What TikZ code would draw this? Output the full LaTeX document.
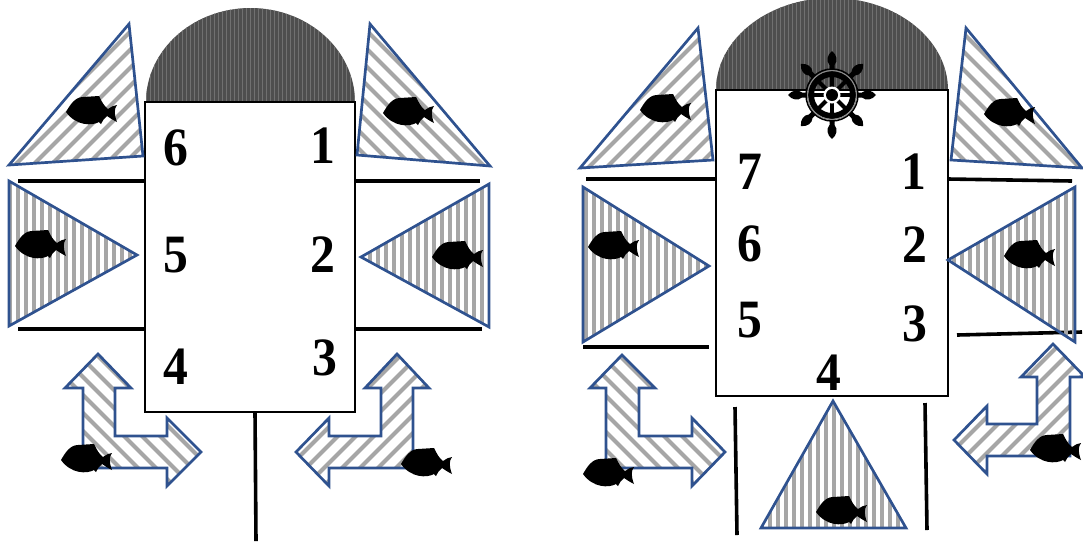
\documentclass[tikz,border=0pt]{standalone}
\usepackage{fontspec}
\setmainfont{Liberation Serif}
\definecolor{edge}{RGB}{47,82,143}
\definecolor{stripe}{RGB}{166,166,166}
\definecolor{domegrey}{RGB}{78,78,78}
\definecolor{domeline}{RGB}{112,112,112}
\tikzset{
  outline/.style={draw=edge,line width=2.7pt,line join=miter},
  rule/.style={draw=black,line width=3.6pt},
  cabin/.style={draw=black,line width=2.4pt,fill=white},
  num/.style={font=\fontsize{54}{54}\selectfont\bfseries,inner sep=0pt,text=black}
}
\newcommand{\vstripes}{\foreach \i in {0,8,...,1088}{\fill[stripe] (\i,0) rectangle (\i+4,542);}}
\newcommand{\rstripes}{\foreach \i in {-600,-582,...,1100}{\draw[stripe,line width=4pt] (\i,600) -- (\i+600,0);}}
\newcommand{\lstripes}{\foreach \i in {-600,-582,...,1100}{\draw[stripe,line width=4pt] (\i,0) -- (\i+600,600);}}
\newcommand{\hatched}[2]{\begin{scope}\clip #2;#1\end{scope}\draw[outline] #2;}
\newcommand{\fish}[2]{\fill[black,shift={(#1,#2)}] (0,0) .. controls (4,-7) and (9,-15) .. (17,-15) -- (33,-16) .. controls (36,-10) and (38,-6) .. (42,-3)
  .. controls (45,-5) and (48,-7) .. (51,-7) .. controls (48,-3) and (48,2) .. (51,10) .. controls (47,8) and (44,6) .. (41,4)
  .. controls (38,7) and (36,9) .. (35,12) -- (33,10) .. controls (26,14) and (10,14) .. (0,0) -- cycle;}
\newcommand{\domestripes}[3]{\foreach \i in {#1,#2,...,#3}{\draw[domeline,line width=1pt] (\i,-5) -- (\i,110);}}
\begin{document}
\begin{tikzpicture}[x=1pt,y=-1pt]
\useasboundingbox (0,0) rectangle (1083,542);
% domes
\begin{scope}
\clip (146,102) .. controls (146,50.1) and (192.8,8) .. (250.5,8) .. controls (308.2,8) and (355,50.1) .. (355,102) -- cycle;
\fill[domegrey] (140,0) rectangle (360,102);
\domestripes{146}{150}{356}
\end{scope}
\begin{scope}
\clip (716,90) .. controls (716,39.2) and (768,-2) .. (832,-2) .. controls (896,-2) and (948,39.2) .. (948,90) -- cycle;
\fill[domegrey] (710,-5) rectangle (955,90);
\domestripes{716}{720}{948}
\end{scope}
% rules
\draw[rule] (18,181) -- (145,181);
\draw[rule] (355,181) -- (480,181);
\draw[rule] (18,329) -- (145,329);
\draw[rule] (355,329) -- (482,329);
\draw[rule] (255,412) -- (256,541);
\draw[rule] (586,179) -- (716,179);
\draw[rule] (948,179) -- (1072,181);
\draw[rule] (583,347) -- (709,347);
\draw[rule] (957,335) -- (1082,332);
\draw[rule] (735,407) -- (737,535);
\draw[rule] (925,403) -- (927,530);
% cabins
\draw[cabin] (145,102) rectangle (355,412);
\draw[cabin] (716,90) rectangle (948,396);
% triangles
\hatched{\rstripes}{(129,24) -- (143,156) -- (9,165) -- cycle}
\hatched{\lstripes}{(370,24) -- (490,166) -- (357,155) -- cycle}
\hatched{\vstripes}{(9,181) -- (137,255) -- (9,326) -- cycle}
\hatched{\vstripes}{(489,184) -- (361,257) -- (489,327) -- cycle}
\hatched{\rstripes}{(698,28) -- (713,160) -- (580,168) -- cycle}
\hatched{\lstripes}{(966,28) -- (1082,168) -- (951,160) -- cycle}
\hatched{\vstripes}{(583,187) -- (709,266) -- (583,342) -- cycle}
\hatched{\vstripes}{(1075,187) -- (948,260) -- (1075,342) -- cycle}
\hatched{\vstripes}{(833,401) -- (906,528) -- (761,528) -- cycle}
% L arrows
\hatched{\lstripes}{(98,354) -- (131,388) -- (115,388) -- (115,436) -- (167,436) -- (167,418) -- (201,452) -- (167,486) -- (167,468) -- (83,468) -- (83,388) -- (65,388) -- cycle}
\hatched{\rstripes}{(397,354) -- (429,388) -- (413,388) -- (413,468) -- (329,468) -- (329,486) -- (296,452) -- (329,418) -- (329,436) -- (381,436) -- (381,388) -- (365,388) -- cycle}
\hatched{\lstripes}{(622,355) -- (655,388) -- (639,388) -- (639,436) -- (692,436) -- (692,418) -- (725,452) -- (692,486) -- (692,468) -- (606,468) -- (606,388) -- (590,388) -- cycle}
\hatched{\rstripes}{(1053,344) -- (1085,377) -- (1070,377) -- (1070,456) -- (987,456) -- (987,474) -- (954,440) -- (987,406) -- (987,424) -- (1037,424) -- (1037,377) -- (1021,377) -- cycle}
% fish
\fish{66}{112}\fish{383}{113}\fish{15}{246}\fish{432}{257}\fish{61}{460}\fish{401}{464}
\fish{640}{110}\fish{984}{114}\fish{588}{247}\fish{1004}{256}\fish{583}{474}\fish{1030}{450}\fish{816}{512}
% numbers
\node[num,xscale=.92] (a6) at (176,148) {6};
\node[num,xscale=.92] (a1) at (323,146) {1};
\node[num,xscale=.92] (a5) at (176,255) {5};
\node[num,xscale=.92] (a2) at (323,255) {2};
\node[num,xscale=.92] (a4) at (176,367) {4};
\node[num,xscale=.92] (a3) at (325,358) {3};
\node[num,xscale=.92] (b7) at (750,172) {7};
\node[num,xscale=.92] (b1) at (914,172) {1};
\node[num,xscale=.92] (b6) at (750,244) {6};
\node[num,xscale=.92] (b2) at (915,245) {2};
\node[num,xscale=.92] (b5) at (750,320) {5};
\node[num,xscale=.92] (b3) at (915,324) {3};
\node[num,xscale=.92] (b4) at (829,373) {4};
% ship wheel
\begin{scope}[shift={(832,95)}]
\foreach \a in {0,45,...,315}{
  \draw[black,line width=4pt,rotate=\a] (8,0) -- (22,0);
  \fill[black,rotate=\a] (26,-2.5) -- (30,-2.5) .. controls (34,-6) and (40,-5) .. (44,0) .. controls (40,5) and (34,6) .. (30,2.5) -- (26,2.5) -- cycle;
}
\draw[black,line width=6pt] (0,0) circle (21);
\draw[black!45,line width=1.2pt] (0,0) circle (24.5);
\draw[black,line width=1.5pt] (0,0) circle (26);
\fill[white] (0,0) circle (8.5);
\fill[black] (0,0) circle (6);
\end{scope}
\end{tikzpicture}
\end{document}
